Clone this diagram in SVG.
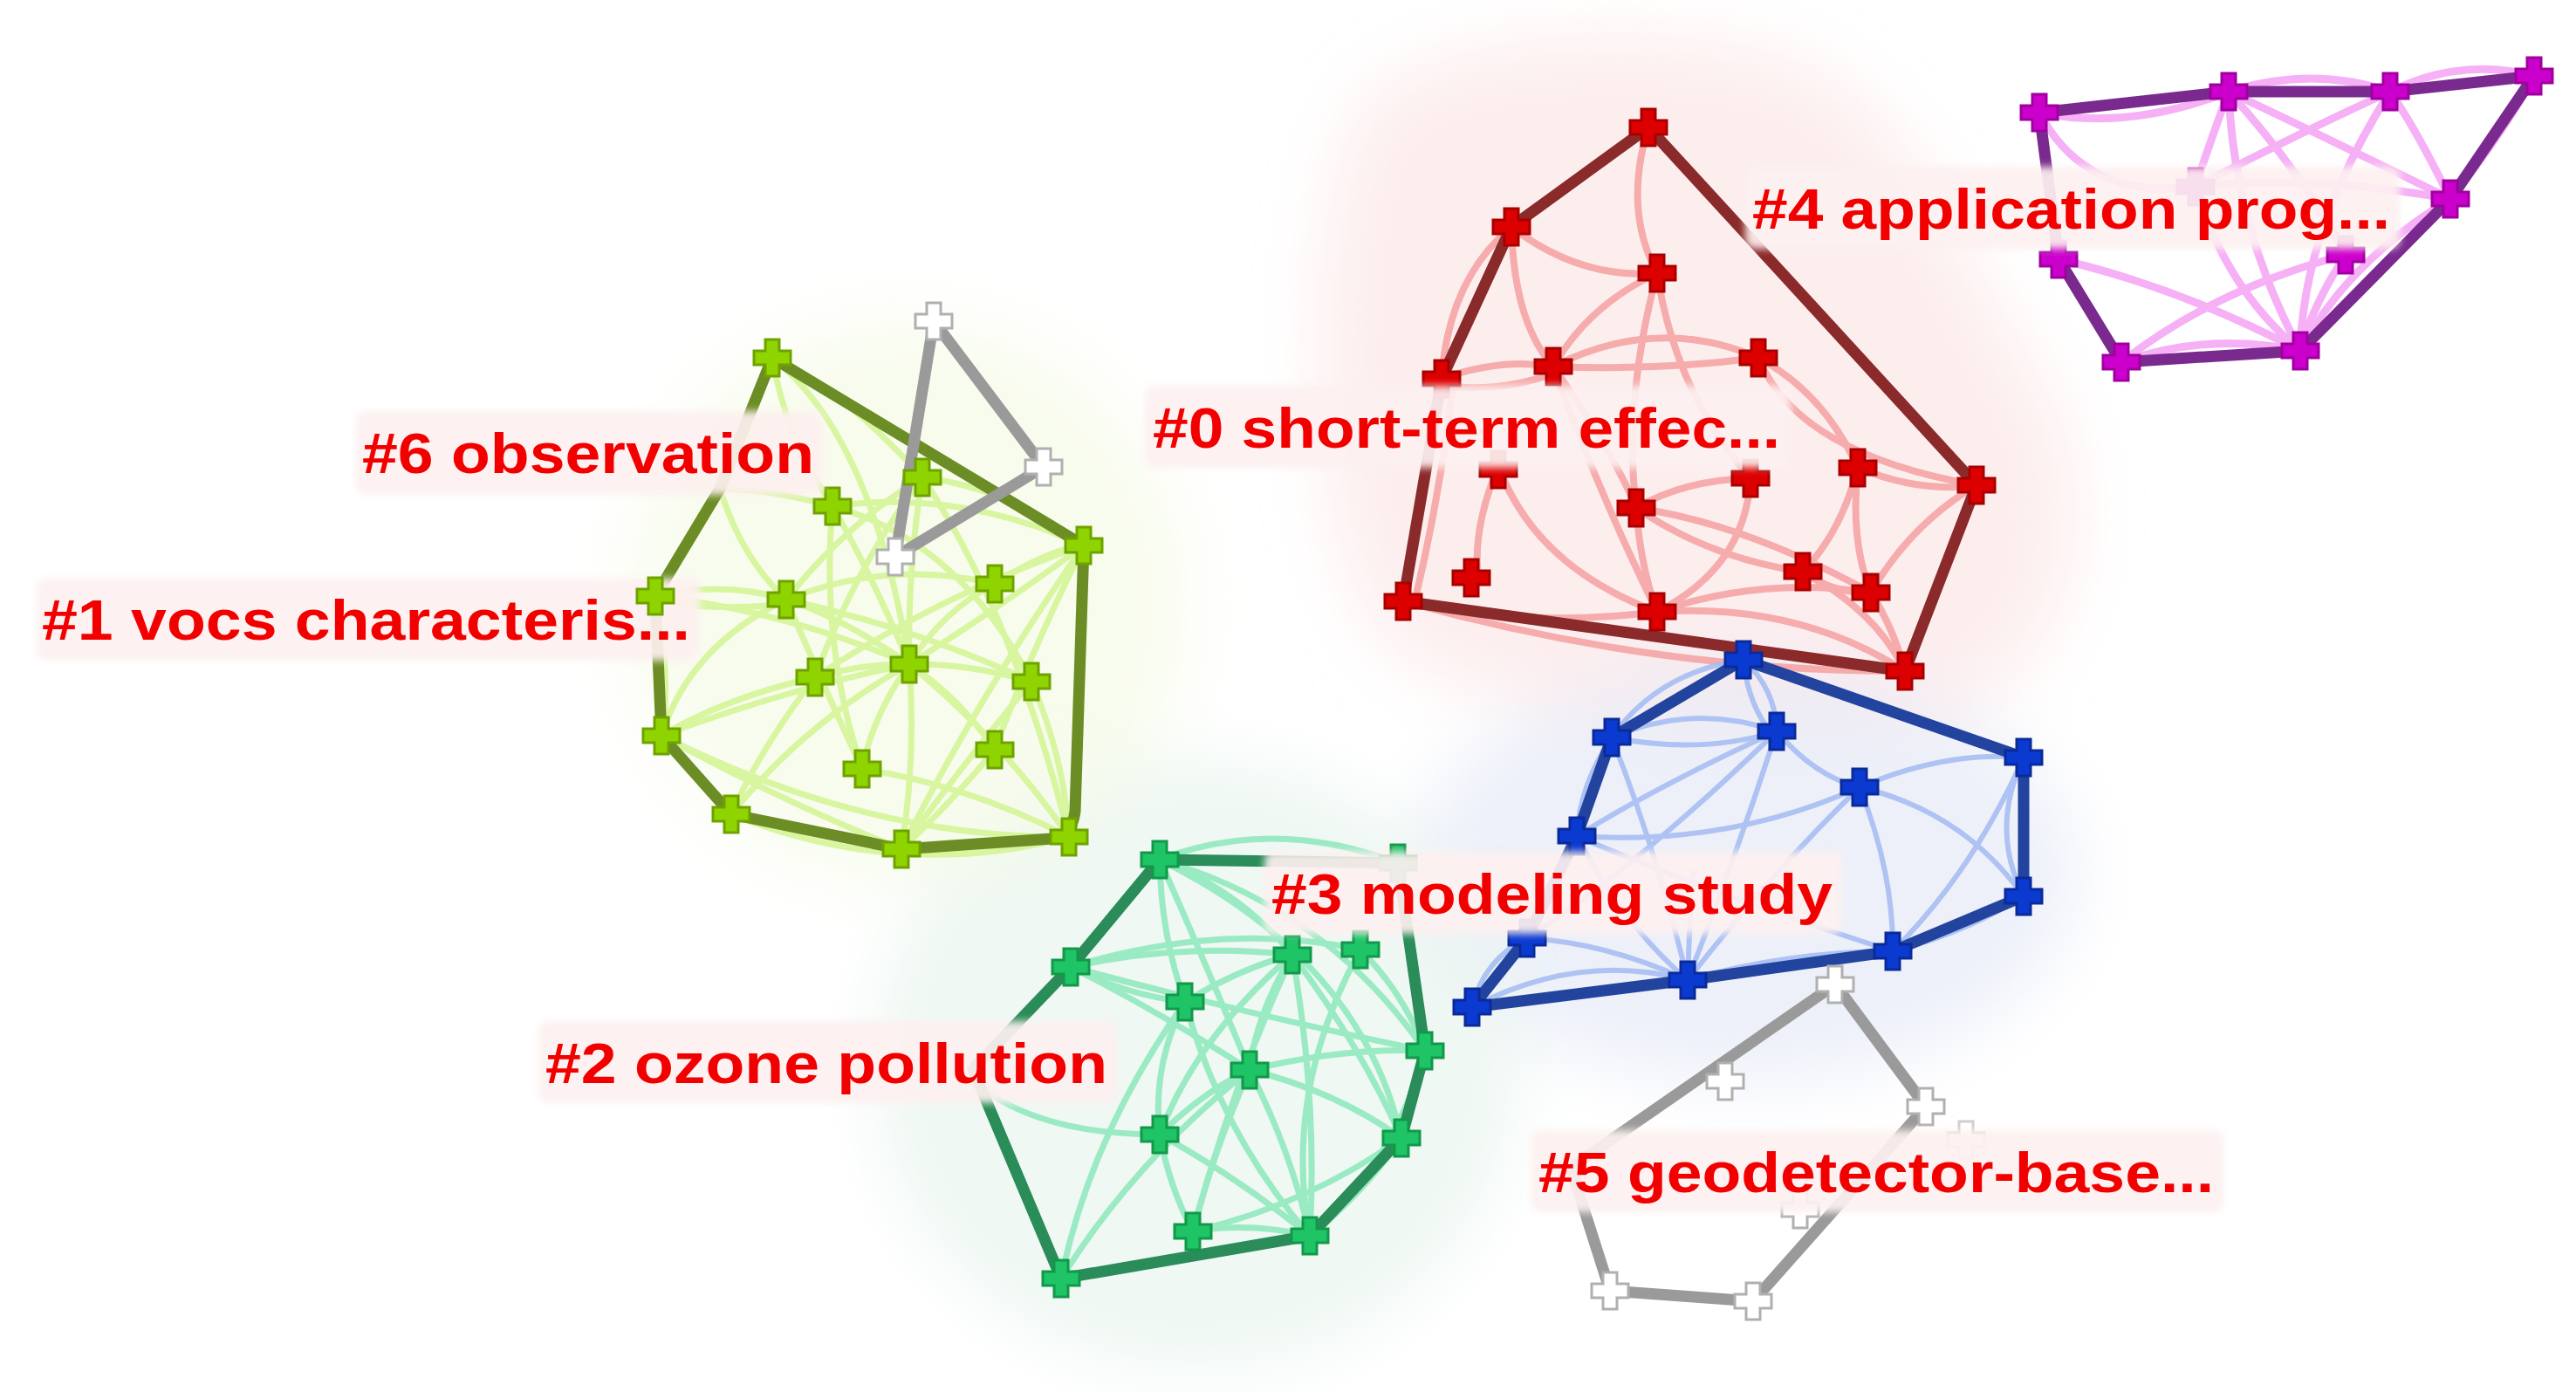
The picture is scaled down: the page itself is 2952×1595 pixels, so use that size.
<svg xmlns="http://www.w3.org/2000/svg" xmlns:xlink="http://www.w3.org/1999/xlink" width="2952" height="1595" viewBox="0 0 2952 1595">
<defs>
<filter id="blur" x="-30%" y="-30%" width="160%" height="160%"><feGaussianBlur stdDeviation="40"/></filter>
<filter id="soft" x="-10%" y="-30%" width="120%" height="160%"><feGaussianBlur stdDeviation="4"/></filter>
<path id="cross" d="M-8,-21 h16 v13 h13 v16 h-13 v13 h-16 v-13 h-13 v-16 h13 z"/>
<style>
.e{fill:none;stroke-linecap:round;opacity:0.85}
.er{stroke:#f5a0a0;stroke-width:8}
.ey{stroke:#d3f492;stroke-width:7}
.eg{stroke:#8be8ba;stroke-width:7}
.eb{stroke:#a3bbf2;stroke-width:6}
.ep{stroke:#f5a3f5;stroke-width:9}
.h{fill:none;stroke-width:13;stroke-linejoin:round;stroke-linecap:round}
.nr{fill:#dd0000;stroke:#a80000;stroke-width:3}
.ny{fill:#8fd400;stroke:#6ea200;stroke-width:3}
.ng{fill:#1fc466;stroke:#12984a;stroke-width:3}
.nb{fill:#0a3ad0;stroke:#0a2a99;stroke-width:3}
.np{fill:#cc00cc;stroke:#a000a0;stroke-width:3}
.nx{fill:#ffffff;stroke:#b0b0b0;stroke-width:3}
.lb{fill:#fdf0f0;opacity:0.93}
.lt{font-family:"Liberation Sans",Arial,sans-serif;font-weight:bold;font-size:64px;fill:#f20000}
</style>
</defs>
<rect width="2952" height="1595" fill="#ffffff"/>
<g id="halos" filter="url(#blur)">
<path d="M1560,120 C1650,30 1950,20 2080,80 C2200,140 2250,300 2330,420 C2420,560 2380,760 2250,810 C2050,870 1750,820 1620,760 C1500,700 1480,300 1560,120 Z" fill="#fbe2e2" opacity="0.6"/>
<ellipse cx="2000" cy="1000" rx="380" ry="240" fill="#e3e8f6" opacity="0.65"/>
<ellipse cx="1370" cy="1220" rx="370" ry="350" fill="#e6f5ec" opacity="0.65"/>
<ellipse cx="1040" cy="690" rx="320" ry="320" fill="#f4fae3" opacity="0.65"/>
</g>
<g id="connectors">
<g id="edges-red" class="e er">
<path d="M1889,146 Q1860,240 1899,313"/>
<path d="M1732,260 Q1810,320 1899,313"/>
<path d="M1732,260 Q1735,370 1780,420"/>
<path d="M1899,313 Q1820,350 1780,420"/>
<path d="M1899,313 Q1860,460 1875,582"/>
<path d="M1652,434 Q1720,410 1780,420"/>
<path d="M1652,442 Q1720,450 1780,428"/>
<path d="M1780,420 Q1900,360 2015,410"/>
<path d="M1780,420 Q1900,425 2015,410"/>
<path d="M1732,260 Q1660,320 1652,434"/>
<path d="M2015,410 Q2060,520 2265,556"/>
<path d="M2015,410 Q2090,450 2129,536"/>
<path d="M2129,536 Q2200,565 2265,556"/>
<path d="M2129,536 Q2120,620 2144,679"/>
<path d="M2129,536 Q2110,610 2066,655"/>
<path d="M2006,548 Q1930,550 1875,582"/>
<path d="M2006,548 Q2000,650 1899,701"/>
<path d="M1875,582 Q1880,650 1899,701"/>
<path d="M1875,582 Q2000,600 2144,679"/>
<path d="M1875,582 Q1960,640 2066,655"/>
<path d="M1717,534 Q1760,650 1899,701"/>
<path d="M1717,534 Q1690,600 1693,650"/>
<path d="M1608,689 Q1750,720 1899,701"/>
<path d="M1899,701 Q2060,690 2183,769"/>
<path d="M1899,701 Q2020,660 2144,679"/>
<path d="M2066,655 Q2100,680 2144,679"/>
<path d="M1665,440 Q1650,570 1622,685"/>
<path d="M2144,679 Q2170,720 2183,769"/>
<path d="M1780,420 Q1830,560 1899,701"/>
<path d="M2265,556 Q2190,600 2144,679"/>
<path d="M1608,689 Q1900,770 2183,769"/>
<path d="M2066,655 Q2150,700 2183,769"/>
<path d="M1899,313 Q1920,450 2006,548"/>
<path d="M1780,420 Q1850,520 1875,582"/>
</g>
<g id="edges-yellow" class="e ey">
<path d="M885,410 Q960,440 1057,547"/>
<path d="M885,410 Q900,500 954,580"/>
<path d="M825,560 Q880,560 954,580"/>
<path d="M825,560 Q850,640 901,687"/>
<path d="M751,683 Q830,665 901,687"/>
<path d="M751,690 Q830,700 901,692"/>
<path d="M751,683 Q900,700 1042,761"/>
<path d="M901,687 Q970,710 1042,761"/>
<path d="M901,687 Q970,600 1057,547"/>
<path d="M901,687 Q1020,640 1140,669"/>
<path d="M901,687 Q1050,720 1182,781"/>
<path d="M954,580 Q1100,560 1242,625"/>
<path d="M954,580 Q1000,660 1042,761"/>
<path d="M954,580 Q940,740 988,881"/>
<path d="M1057,547 Q1160,560 1242,625"/>
<path d="M1057,547 Q1040,650 1042,761"/>
<path d="M1057,547 Q980,650 934,776"/>
<path d="M1140,669 Q1080,700 1042,761"/>
<path d="M1140,669 Q1200,630 1242,625"/>
<path d="M1242,625 Q1140,700 1042,761"/>
<path d="M1242,625 Q1080,680 934,776"/>
<path d="M1242,625 Q1120,800 1033,973"/>
<path d="M1242,625 Q1180,750 1140,859"/>
<path d="M1042,761 Q990,760 934,776"/>
<path d="M1042,761 Q1110,760 1182,781"/>
<path d="M1042,761 Q1100,800 1140,859"/>
<path d="M1042,761 Q1000,820 988,881"/>
<path d="M1042,761 Q1050,870 1033,973"/>
<path d="M1042,761 Q920,830 838,933"/>
<path d="M1042,761 Q1150,850 1225,959"/>
<path d="M934,776 Q830,800 758,843"/>
<path d="M934,776 Q870,860 838,933"/>
<path d="M1182,781 Q1220,870 1225,959"/>
<path d="M1182,781 Q1100,880 1033,973"/>
<path d="M758,843 Q900,920 1033,973"/>
<path d="M758,843 Q900,790 1042,761"/>
<path d="M758,843 Q790,740 901,687"/>
<path d="M988,881 Q1110,900 1225,959"/>
<path d="M838,933 Q1030,1010 1225,959"/>
<path d="M1140,859 Q1090,920 1033,973"/>
<path d="M751,683 Q770,780 758,843"/>
<path d="M758,843 Q990,960 1225,959"/>
<path d="M885,410 Q1000,500 1042,761"/>
<path d="M901,687 Q950,800 988,881"/>
<path d="M954,580 Q1100,620 1182,781"/>
<path d="M1057,547 Q1160,700 1225,959"/>
</g>
<g id="edges-green" class="e eg">
<path d="M1329,985 Q1460,935 1602,989"/>
<path d="M1329,985 Q1420,1020 1481,1094"/>
<path d="M1329,985 Q1330,1070 1358,1148"/>
<path d="M1329,985 Q1380,1100 1432,1226"/>
<path d="M1329,985 Q1520,1040 1633,1204"/>
<path d="M1329,985 Q1560,1100 1606,1304"/>
<path d="M1227,1108 Q1350,1080 1481,1094"/>
<path d="M1227,1108 Q1400,1055 1559,1088"/>
<path d="M1227,1108 Q1290,1140 1358,1148"/>
<path d="M1227,1108 Q1420,1160 1633,1204"/>
<path d="M1227,1108 Q1330,1160 1432,1226"/>
<path d="M1358,1148 Q1420,1110 1481,1094"/>
<path d="M1358,1148 Q1320,1220 1329,1300"/>
<path d="M1481,1094 Q1440,1160 1432,1226"/>
<path d="M1481,1094 Q1370,1190 1329,1300"/>
<path d="M1481,1094 Q1510,1260 1501,1416"/>
<path d="M1481,1094 Q1560,1200 1606,1304"/>
<path d="M1481,1094 Q1410,1250 1367,1411"/>
<path d="M1559,1088 Q1610,1140 1633,1204"/>
<path d="M1432,1226 Q1540,1200 1633,1204"/>
<path d="M1432,1226 Q1380,1250 1329,1300"/>
<path d="M1432,1226 Q1530,1250 1606,1304"/>
<path d="M1432,1226 Q1390,1320 1367,1411"/>
<path d="M1432,1226 Q1480,1320 1501,1416"/>
<path d="M1329,1300 Q1420,1350 1501,1416"/>
<path d="M1329,1300 Q1340,1360 1367,1411"/>
<path d="M1329,1300 Q1200,1300 1130,1250"/>
<path d="M1367,1411 Q1430,1400 1501,1416"/>
<path d="M1216,1465 Q1300,1330 1432,1226"/>
<path d="M1216,1465 Q1250,1300 1358,1148"/>
<path d="M1606,1304 Q1560,1370 1501,1416"/>
<path d="M1606,1304 Q1500,1380 1367,1411"/>
<path d="M1633,1204 Q1600,1330 1501,1416"/>
<path d="M1358,1148 Q1400,1300 1501,1416"/>
<path d="M1559,1088 Q1470,1250 1501,1416"/>
</g>
<g id="edges-blue" class="e eb">
<path d="M1998,756 Q1900,770 1847,845"/>
<path d="M1998,756 Q2035,790 2036,838"/>
<path d="M1998,760 Q2005,810 2030,840"/>
<path d="M1847,845 Q1940,805 2036,838"/>
<path d="M1847,845 Q1950,865 2036,838"/>
<path d="M2036,838 Q2080,890 2131,902"/>
<path d="M2131,902 Q2230,860 2319,868"/>
<path d="M2131,902 Q2250,930 2319,1027"/>
<path d="M2131,902 Q2170,1000 2169,1090"/>
<path d="M2131,902 Q1980,970 1807,958"/>
<path d="M2131,902 Q2030,1000 1934,1123"/>
<path d="M2036,838 Q1900,900 1807,958"/>
<path d="M2036,838 Q1990,980 1934,1123"/>
<path d="M1847,845 Q1900,980 1934,1123"/>
<path d="M1847,845 Q1810,900 1807,958"/>
<path d="M1807,958 Q1860,1060 1934,1123"/>
<path d="M1750,1075 Q1840,1080 1934,1123"/>
<path d="M1687,1154 Q1810,1090 1934,1123"/>
<path d="M2319,868 Q2280,950 2319,1027"/>
<path d="M2319,1027 Q2250,1070 2169,1090"/>
<path d="M2319,868 Q2260,1000 2169,1090"/>
<path d="M2169,1090 Q2050,1090 1934,1123"/>
<path d="M1750,1075 Q1700,1100 1687,1154"/>
<path d="M2036,838 Q1880,990 1750,1075"/>
<path d="M1934,1123 Q1936,1060 1940,1000"/>
<path d="M1807,958 Q1950,1020 2169,1090"/>
</g>
<g id="edges-purple" class="e ep">
<path d="M2337,129 Q2440,150 2554,105"/>
<path d="M2337,129 Q2390,230 2516,214"/>
<path d="M2554,105 Q2650,75 2739,105"/>
<path d="M2739,105 Q2820,65 2904,87"/>
<path d="M2554,105 Q2530,170 2516,214"/>
<path d="M2554,105 Q2650,150 2808,228"/>
<path d="M2554,105 Q2560,260 2636,402"/>
<path d="M2739,105 Q2770,150 2808,228"/>
<path d="M2739,105 Q2640,150 2516,214"/>
<path d="M2904,87 Q2870,150 2808,228"/>
<path d="M2516,214 Q2650,200 2808,228"/>
<path d="M2516,214 Q2550,330 2636,402"/>
<path d="M2431,415 Q2540,330 2688,292"/>
<path d="M2431,415 Q2530,380 2636,402"/>
<path d="M2636,402 Q2690,300 2808,228"/>
<path d="M2688,292 Q2650,350 2636,402"/>
<path d="M2359,297 Q2500,330 2636,402"/>
<path d="M2739,105 Q2640,260 2636,402"/>
<path d="M2554,105 Q2640,200 2688,292"/>
</g>
<g id="hulls" class="h">
<path stroke="#8b2a2a" d="M1889,146 L1732,260 L1652,434 L1608,689 L2183,769 L2265,556 Z"/>
<path stroke="#6c8d26" d="M885,410 L1242,625 L1232,930 Q1228,959 1205,961 L1033,973 L838,933 L758,843 L751,683 L825,560 Z"/>
<path stroke="#9a9a9a" d="M1070,368 L1196,535 L1026,638 Z"/>
<path stroke="#2a8c58" d="M1329,985 L1602,989 L1633,1204 L1606,1304 L1501,1416 L1216,1465 L1115,1225 L1227,1108 Z"/>
<path stroke="#23449e" d="M1998,756 L2319,868 L2319,1027 L2169,1090 L1934,1123 L1687,1154 L1750,1075 L1807,958 L1847,845 Z"/>
<path stroke="#7a2a8e" d="M2337,129 L2554,105 L2739,105 L2904,87 L2808,228 L2636,402 L2431,415 L2359,297 Z"/>
<path stroke="#9a9a9a" d="M2103,1128 L2207,1268 L2009,1491 L1845,1479 L1800,1338 Z"/>
</g>
</g>
<g id="nodes">
<g id="n-r1"><use xlink:href="#cross" x="1889" y="146" class="nr"/></g>
<g id="n-r2"><use xlink:href="#cross" x="1732" y="260" class="nr"/></g>
<g id="n-r3"><use xlink:href="#cross" x="1899" y="313" class="nr"/></g>
<g id="n-r4"><use xlink:href="#cross" x="1652" y="434" class="nr"/></g>
<g id="n-r5"><use xlink:href="#cross" x="1780" y="420" class="nr"/></g>
<g id="n-r6"><use xlink:href="#cross" x="2015" y="410" class="nr"/></g>
<g id="n-r7"><use xlink:href="#cross" x="1717" y="538" class="nr"/></g>
<g id="n-r8"><use xlink:href="#cross" x="2006" y="548" class="nr"/></g>
<g id="n-r9"><use xlink:href="#cross" x="2129" y="536" class="nr"/></g>
<g id="n-r10"><use xlink:href="#cross" x="2265" y="556" class="nr"/></g>
<g id="n-r11"><use xlink:href="#cross" x="1875" y="582" class="nr"/></g>
<g id="n-r12"><use xlink:href="#cross" x="1686" y="662" class="nr"/></g>
<g id="n-r13"><use xlink:href="#cross" x="1608" y="689" class="nr"/></g>
<g id="n-r14"><use xlink:href="#cross" x="1899" y="701" class="nr"/></g>
<g id="n-r15"><use xlink:href="#cross" x="2066" y="655" class="nr"/></g>
<g id="n-r16"><use xlink:href="#cross" x="2144" y="679" class="nr"/></g>
<g id="n-r17"><use xlink:href="#cross" x="2183" y="769" class="nr"/></g>
<g id="n-y1"><use xlink:href="#cross" x="885" y="410" class="ny"/></g>
<g id="n-y4"><use xlink:href="#cross" x="901" y="687" class="ny"/></g>
<g id="n-y5"><use xlink:href="#cross" x="954" y="580" class="ny"/></g>
<g id="n-y6"><use xlink:href="#cross" x="1057" y="547" class="ny"/></g>
<g id="n-y7"><use xlink:href="#cross" x="1140" y="669" class="ny"/></g>
<g id="n-y8"><use xlink:href="#cross" x="1242" y="625" class="ny"/></g>
<g id="n-y9"><use xlink:href="#cross" x="1042" y="761" class="ny"/></g>
<g id="n-y10"><use xlink:href="#cross" x="934" y="776" class="ny"/></g>
<g id="n-y11"><use xlink:href="#cross" x="1182" y="781" class="ny"/></g>
<g id="n-y12"><use xlink:href="#cross" x="1140" y="859" class="ny"/></g>
<g id="n-y13"><use xlink:href="#cross" x="988" y="881" class="ny"/></g>
<g id="n-y14"><use xlink:href="#cross" x="758" y="843" class="ny"/></g>
<g id="n-y15"><use xlink:href="#cross" x="838" y="933" class="ny"/></g>
<g id="n-y16"><use xlink:href="#cross" x="1033" y="973" class="ny"/></g>
<g id="n-y17"><use xlink:href="#cross" x="1225" y="959" class="ny"/></g>
<g id="n-x1"><use xlink:href="#cross" x="1070" y="368" class="nx"/></g>
<g id="n-x2"><use xlink:href="#cross" x="1196" y="535" class="nx"/></g>
<g id="n-x3"><use xlink:href="#cross" x="1026" y="638" class="nx"/></g>
<g id="n-g1"><use xlink:href="#cross" x="1329" y="985" class="ng"/></g>
<g id="n-g2"><use xlink:href="#cross" x="1227" y="1108" class="ng"/></g>
<g id="n-g3"><use xlink:href="#cross" x="1358" y="1148" class="ng"/></g>
<g id="n-g4"><use xlink:href="#cross" x="1481" y="1094" class="ng"/></g>
<g id="n-g5"><use xlink:href="#cross" x="1559" y="1088" class="ng"/></g>
<g id="n-g6"><use xlink:href="#cross" x="1602" y="989" class="ng"/></g>
<g id="n-g7"><use xlink:href="#cross" x="1432" y="1226" class="ng"/></g>
<g id="n-g8"><use xlink:href="#cross" x="1633" y="1204" class="ng"/></g>
<g id="n-g9"><use xlink:href="#cross" x="1329" y="1300" class="ng"/></g>
<g id="n-g10"><use xlink:href="#cross" x="1606" y="1304" class="ng"/></g>
<g id="n-g11"><use xlink:href="#cross" x="1367" y="1411" class="ng"/></g>
<g id="n-g12"><use xlink:href="#cross" x="1501" y="1416" class="ng"/></g>
<g id="n-g13"><use xlink:href="#cross" x="1216" y="1465" class="ng"/></g>
<g id="n-b1"><use xlink:href="#cross" x="1998" y="756" class="nb"/></g>
<g id="n-b2"><use xlink:href="#cross" x="1847" y="845" class="nb"/></g>
<g id="n-b3"><use xlink:href="#cross" x="2036" y="838" class="nb"/></g>
<g id="n-b4"><use xlink:href="#cross" x="2131" y="902" class="nb"/></g>
<g id="n-b5"><use xlink:href="#cross" x="2319" y="868" class="nb"/></g>
<g id="n-b6"><use xlink:href="#cross" x="1807" y="958" class="nb"/></g>
<g id="n-b7"><use xlink:href="#cross" x="2319" y="1027" class="nb"/></g>
<g id="n-b8"><use xlink:href="#cross" x="1750" y="1075" class="nb"/></g>
<g id="n-b9"><use xlink:href="#cross" x="2169" y="1090" class="nb"/></g>
<g id="n-b10"><use xlink:href="#cross" x="1934" y="1123" class="nb"/></g>
<g id="n-b11"><use xlink:href="#cross" x="1687" y="1154" class="nb"/></g>
<g id="n-p1"><use xlink:href="#cross" x="2337" y="129" class="np"/></g>
<g id="n-p2"><use xlink:href="#cross" x="2554" y="105" class="np"/></g>
<g id="n-p3"><use xlink:href="#cross" x="2739" y="105" class="np"/></g>
<g id="n-p4"><use xlink:href="#cross" x="2904" y="87" class="np"/></g>
<g id="n-p5"><use xlink:href="#cross" x="2808" y="228" class="np"/></g>
<g id="n-p6"><use xlink:href="#cross" x="2359" y="297" class="np"/></g>
<g id="n-p7"><use xlink:href="#cross" x="2688" y="292" class="np"/></g>
<g id="n-p8"><use xlink:href="#cross" x="2431" y="415" class="np"/></g>
<g id="n-p9"><use xlink:href="#cross" x="2636" y="402" class="np"/></g>
<g id="n-p10"><use xlink:href="#cross" x="2516" y="214" class="np"/></g>
<g id="n-s1"><use xlink:href="#cross" x="2103" y="1128" class="nx"/></g>
<g id="n-s2"><use xlink:href="#cross" x="1977" y="1239" class="nx"/></g>
<g id="n-s3"><use xlink:href="#cross" x="2207" y="1268" class="nx"/></g>
<g id="n-s4"><use xlink:href="#cross" x="2253" y="1306" class="nx" opacity="0.6"/></g>
<g id="n-s5"><use xlink:href="#cross" x="2063" y="1386" class="nx"/></g>
<g id="n-s6"><use xlink:href="#cross" x="1845" y="1479" class="nx"/></g>
<g id="n-s7"><use xlink:href="#cross" x="2009" y="1491" class="nx"/></g>
</g>
<g id="labels">
<g id="label-0"><rect class="lb" x="1312" y="442" width="740" height="94" rx="10" filter="url(#soft)"/><text class="lt" x="1321" y="513" textLength="719" lengthAdjust="spacingAndGlyphs">#0 short-term effec...</text></g>
<g id="label-4"><rect class="lb" x="2000" y="191" width="750" height="94" rx="10" filter="url(#soft)"/><text class="lt" x="2008" y="262" textLength="731" lengthAdjust="spacingAndGlyphs">#4 application prog...</text></g>
<g id="label-6"><rect class="lb" x="408" y="471" width="535" height="96" rx="10" filter="url(#soft)"/><text class="lt" x="415" y="542" textLength="518" lengthAdjust="spacingAndGlyphs">#6 observation</text></g>
<g id="label-1"><rect class="lb" x="42" y="663" width="760" height="94" rx="10" filter="url(#soft)"/><text class="lt" x="48" y="733" textLength="743" lengthAdjust="spacingAndGlyphs">#1 vocs characteris...</text></g>
<g id="n-y3"><use xlink:href="#cross" x="751" y="683" class="ny"/></g>
<g id="label-3"><rect class="lb" x="1449" y="976" width="662" height="94" rx="10" filter="url(#soft)"/><text class="lt" x="1457" y="1047" textLength="643" lengthAdjust="spacingAndGlyphs">#3 modeling study</text></g>
<g id="label-2"><rect class="lb" x="617" y="1170" width="663" height="94" rx="10" filter="url(#soft)"/><text class="lt" x="625" y="1241" textLength="644" lengthAdjust="spacingAndGlyphs">#2 ozone pollution</text></g>
<g id="label-5"><rect class="lb" x="1755" y="1295" width="793" height="94" rx="10" filter="url(#soft)"/><text class="lt" x="1763" y="1366" textLength="774" lengthAdjust="spacingAndGlyphs">#5 geodetector-base...</text></g>
</g>
</svg>
